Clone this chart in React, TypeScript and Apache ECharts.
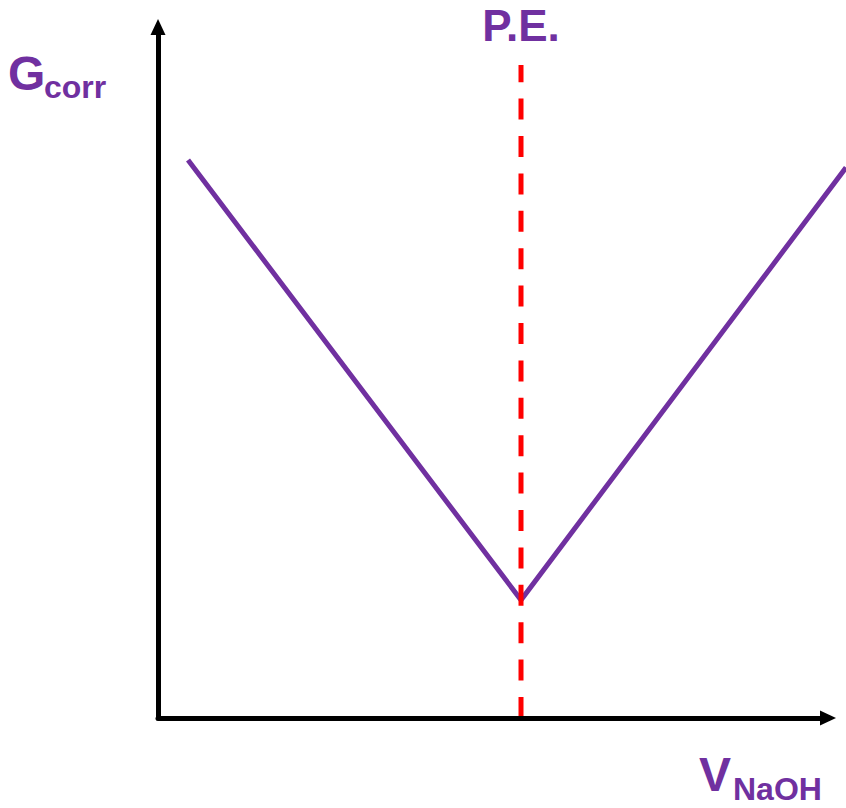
import React, { useEffect, useRef } from "react";
import * as echarts from "echarts";

// Conductance curve (arbitrary units)
const curveX = [0.448, 5.418, 10.269];
const curveY = [8.075, 1.708, 7.966];
// Equivalence point (P.E.) vertical dashed marker
const peX = 5.418;
const peYRange = [0, 9.45];
// Axis extents
const axisMin = 0;
const axisMax = 10;
const curveAxisMax = 10.269; // same scale, reaching the right edge of the page

const PURPLE = "#7030A0";
const FONT = "'Liberation Sans', Arial, Helvetica, sans-serif";

const hiddenAxis = {
  axisLine: { show: false },
  axisTick: { show: false },
  axisLabel: { show: false },
  splitLine: { show: false },
};

const arrowAxisLine = {
  show: true,
  symbol: ["none", "triangle"],
  symbolSize: [15, 16],
  lineStyle: { color: "#000000", width: 5 },
};

export default function App() {
  const ref = useRef<HTMLDivElement>(null);

  useEffect(() => {
    if (!ref.current) return;
    const chart = echarts.init(ref.current, undefined, { renderer: "svg" });

    const curveData = curveX.map((x, i) => [x, curveY[i]]);
    const peData = peYRange.map((y) => [peX, y]);

    chart.setOption({
      animation: false,
      backgroundColor: "#ffffff",
      grid: [
        { left: 158, right: 18, top: 27, bottom: 90 },
        { left: 158, right: 0, top: 27, bottom: 90 },
      ],
      xAxis: [
        {
          type: "value",
          gridIndex: 0,
          min: axisMin,
          max: axisMax,
          axisLine: arrowAxisLine,
          axisTick: { show: false },
          axisLabel: { show: false },
          splitLine: { show: false },
          z: 5,
        },
        {
          type: "value",
          gridIndex: 1,
          min: axisMin,
          max: curveAxisMax,
          ...hiddenAxis,
        },
      ],
      yAxis: [
        {
          type: "value",
          gridIndex: 0,
          min: axisMin,
          max: axisMax,
          axisLine: arrowAxisLine,
          axisTick: { show: false },
          axisLabel: { show: false },
          splitLine: { show: false },
          z: 5,
        },
        {
          type: "value",
          gridIndex: 1,
          min: axisMin,
          max: axisMax,
          ...hiddenAxis,
        },
      ],
      series: [
        {
          type: "line",
          xAxisIndex: 0,
          yAxisIndex: 0,
          data: peData,
          symbol: "none",
          clip: false,
          lineStyle: { color: "#FF0000", width: 5, type: [21, 16.4] },
          z: 3,
        },
        {
          type: "line",
          xAxisIndex: 1,
          yAxisIndex: 1,
          data: curveData,
          symbol: "none",
          clip: false,
          lineStyle: { color: PURPLE, width: 5, join: "miter" },
          z: 2,
        },
      ],
      graphic: [
        {
          type: "text",
          x: 8,
          y: 73.4,
          style: {
            text: "G",
            fill: PURPLE,
            font: `bold 48px ${FONT}`,
            align: "left",
            verticalAlign: "middle",
          },
        },
        {
          type: "text",
          x: 44,
          y: 86.9,
          style: {
            text: "corr",
            fill: PURPLE,
            font: `bold 32px ${FONT}`,
            align: "left",
            verticalAlign: "middle",
          },
        },
        {
          type: "text",
          x: 521,
          y: 25,
          style: {
            text: "P.E.",
            fill: PURPLE,
            font: `bold 44px ${FONT}`,
            align: "center",
            verticalAlign: "middle",
          },
        },
        {
          type: "text",
          x: 699,
          y: 774,
          style: {
            text: "V",
            fill: PURPLE,
            font: `bold 48px ${FONT}`,
            align: "left",
            verticalAlign: "middle",
          },
        },
        {
          type: "text",
          x: 733,
          y: 789,
          style: {
            text: "NaOH",
            fill: PURPLE,
            font: `bold 32px ${FONT}`,
            align: "left",
            verticalAlign: "middle",
          },
        },
      ],
    });

    return () => chart.dispose();
  }, []);

  return (
    <div
      ref={ref}
      style={{ position: "fixed", left: 0, top: 0, width: 846, height: 808 }}
    />
  );
}
